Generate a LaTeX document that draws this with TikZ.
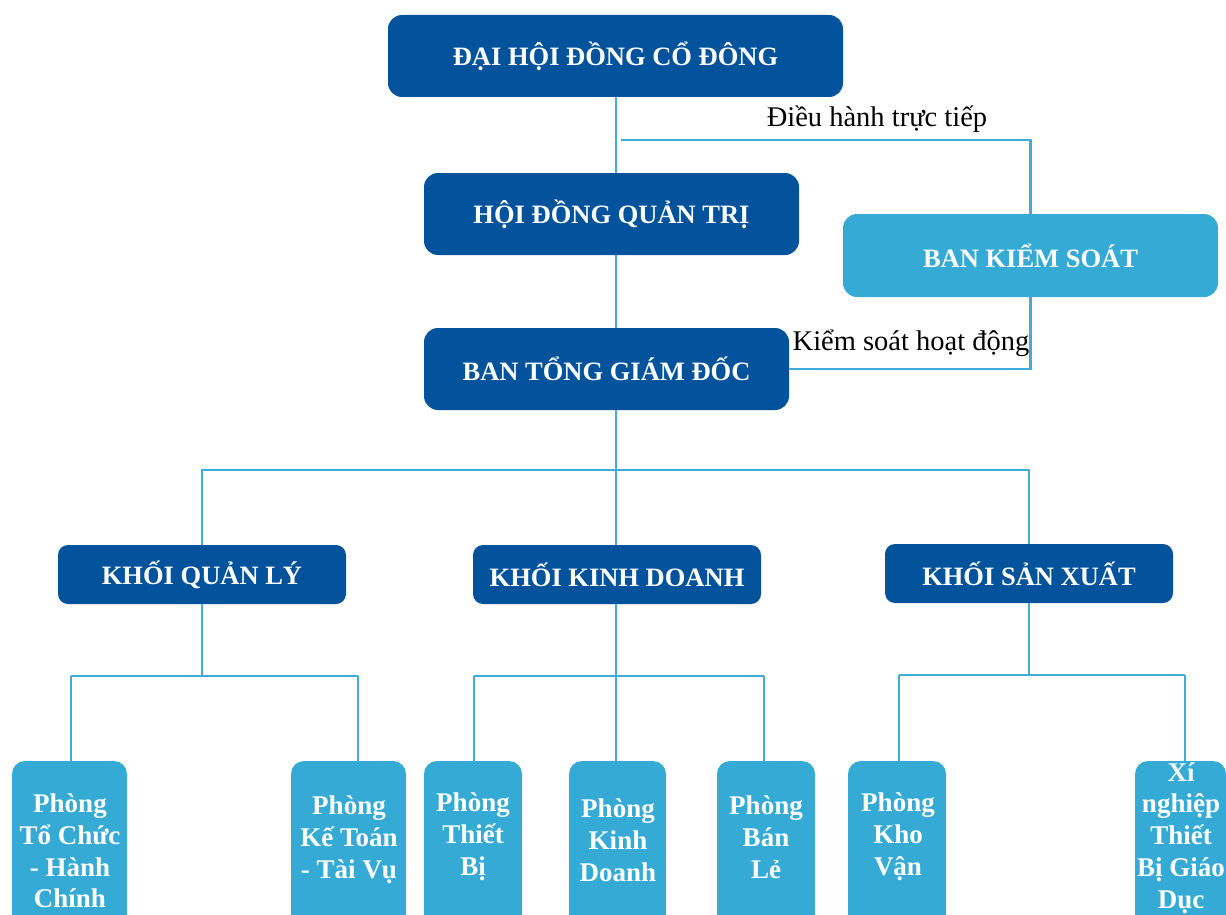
\documentclass[tikz,border=0pt]{standalone}
\usepackage{fontspec}
\setmainfont{Liberation Serif}
\definecolor{dblue}{HTML}{03539C}
\definecolor{lblue}{HTML}{35AAD5}
\definecolor{lline}{HTML}{3FADD6}
\tikzset{
  x=1pt, y=-1pt,
  topbox/.style={fill=dblue, rounded corners=14pt, inner sep=0pt, text=white,
    font=\fontsize{26.5}{32}\selectfont\bfseries},
  ksbox/.style={fill=lblue, rounded corners=14pt, inner sep=0pt, text=white,
    font=\fontsize{26.5}{32}\selectfont\bfseries},
  khoibox/.style={fill=dblue, rounded corners=10pt, inner sep=0pt, text=white,
    font=\fontsize{26.5}{32}\selectfont\bfseries},
  pbox/.style={fill=lblue, rounded corners=13pt, inner sep=0pt},
  ptext/.style={text=white, align=center, inner sep=0pt,
    font=\fontsize{27}{31.8}\selectfont\bfseries},
  conn/.style={draw=lline, line width=2.5pt},
  lbl/.style={inner sep=0pt, font=\fontsize{28.5}{32}\selectfont}
}
\begin{document}
\begin{tikzpicture}
\useasboundingbox (0,0) rectangle (1226,915);
\clip (0,0) rectangle (1226,915);
% top level boxes
\node[topbox, minimum width=455pt, minimum height=82pt] (dh) at (615.5,56) {ĐẠI HỘI ĐỒNG CỔ ĐÔNG};
\node[topbox, minimum width=375pt, minimum height=82pt] (hd) at (611.5,214) {HỘI ĐỒNG QUẢN TRỊ};
\node[ksbox, minimum width=375pt, minimum height=83pt] (bks) at (1030.5,255.5) {BAN KIỂM SOÁT};
\node[topbox, minimum width=365pt, minimum height=82pt] (tg) at (606.5,369) {BAN TỔNG GIÁM ĐỐC};
% khoi boxes
\node[khoibox, minimum width=288pt, minimum height=59pt] (kq) at (202,574.5) {KHỐI QUẢN LÝ};
\node[khoibox, minimum width=288pt, minimum height=59pt] (kd) at (617,574.5) {KHỐI KINH DOANH};
\node[khoibox, minimum width=288pt, minimum height=59pt] (ks) at (1029,573.5) {KHỐI SẢN XUẤT};
% phong boxes
\node[pbox, minimum width=115pt, minimum height=180pt] (p1) at (69.5,851) {};
\node[pbox, minimum width=115pt, minimum height=180pt] (p2) at (348.5,851) {};
\node[pbox, minimum width=98pt, minimum height=180pt] (p3) at (473,851) {};
\node[pbox, minimum width=97pt, minimum height=180pt] (p4) at (617.5,851) {};
\node[pbox, minimum width=98pt, minimum height=180pt] (p5) at (766,851) {};
\node[pbox, minimum width=98pt, minimum height=180pt] (p6) at (897,851) {};
\node[pbox, minimum width=91pt, minimum height=180pt] (p7) at (1180.5,851) {};
\node[ptext] (t1) at (70,851) {Phòng\\Tổ Chức\\- Hành\\Chính};
\node[ptext] (t2) at (349,840) {Phòng\\Kế Toán\\- Tài Vụ};
\node[ptext] (t3) at (473,837) {Phòng\\Thiết\\Bị};
\node[ptext] (t4) at (618,840) {Phòng\\Kinh\\Doanh};
\node[ptext] (t5) at (766,837) {Phòng\\Bán\\Lẻ};
\node[ptext] (t6) at (898,837) {Phòng\\Kho\\Vận};
\node[ptext] (t7) at (1181,838) {Xí\\nghiệp\\Thiết\\Bị Giáo\\Dục};
% labels
\node[lbl] (l1) at (877,119) {Điều hành trực tiếp};
\node[lbl] (l2) at (911,343) {Kiểm soát hoạt động};
% coordinates
\coordinate (c1) at (621,140);
\coordinate (br) at (616,470);
\coordinate (b1) at (71,676);
\coordinate (d2) at (358,676);
\coordinate (b2) at (474,676);
\coordinate (d5) at (764,676);
\coordinate (b3) at (899,675);
\coordinate (d7) at (1185,675);
% connectors
\draw[conn] (dh.south -| br) -- (hd.north -| br);
\draw[conn] (hd.south -| br) -- (tg.north -| br);
\draw[conn] (tg.south -| br) -- (kd.north -| br);
\draw[conn] (c1) -| (bks.north);
\draw[conn] (bks.south) |- (tg.east);
\draw[conn] (kq.north) |- (br) -| (ks.north);
\draw[conn] (kq.south) -- (kq.south |- b1);
\draw[conn] (b1) -- (d2);
\draw[conn] (b1) -- (b1 |- p1.north);
\draw[conn] (d2) -- (d2 |- p2.north);
\draw[conn] (kd.south -| br) -- (br |- p4.north);
\draw[conn] (b2) -- (d5);
\draw[conn] (b2) -- (b2 |- p3.north);
\draw[conn] (d5) -- (d5 |- p5.north);
\draw[conn] (ks.south) -- (ks.south |- b3);
\draw[conn] (b3) -- (d7);
\draw[conn] (b3) -- (b3 |- p6.north);
\draw[conn] (d7) -- (d7 |- p7.north);
\end{tikzpicture}
\end{document}
